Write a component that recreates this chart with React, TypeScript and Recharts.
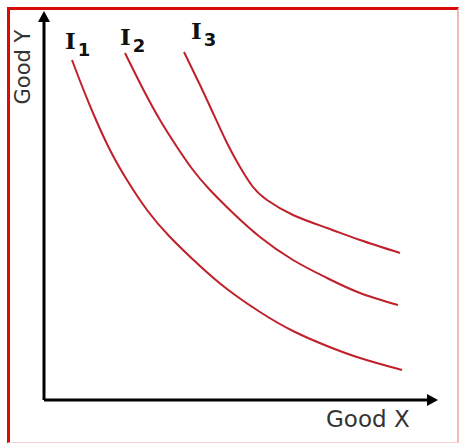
import React from "react"
import { LineChart, Line, XAxis, YAxis, Customized } from "recharts"

// indifference curves (origin = where the axes meet)
const curveI1 = [
  { x: 28, y: 340 }, { x: 36, y: 319 }, { x: 49, y: 287 }, { x: 66, y: 250 },
  { x: 83, y: 220 }, { x: 103, y: 190 }, { x: 126, y: 163 }, { x: 156, y: 134 },
  { x: 183, y: 111 }, { x: 216, y: 88 }, { x: 249, y: 69 }, { x: 283, y: 54 },
  { x: 316, y: 42 }, { x: 358, y: 30 },
]
const curveI2 = [
  { x: 81, y: 347 }, { x: 99, y: 311 }, { x: 116, y: 280 }, { x: 133, y: 253 },
  { x: 149, y: 230 }, { x: 166, y: 210 }, { x: 189, y: 187 }, { x: 216, y: 163 },
  { x: 249, y: 140 }, { x: 283, y: 122 }, { x: 316, y: 107 }, { x: 354, y: 95 },
]
const curveI3 = [
  { x: 140, y: 348 }, { x: 156, y: 315 }, { x: 169, y: 287 }, { x: 183, y: 257 },
  { x: 196, y: 233 }, { x: 209, y: 213 }, { x: 223, y: 200 }, { x: 249, y: 185 },
  { x: 283, y: 172 }, { x: 316, y: 160 }, { x: 356, y: 147 },
]
const curveLabels = ["1", "2", "3"]
const xLabel = "Good X"
const yLabel = "Good Y"

const W = 459
const H = 443
const RED = "#c0202a"

function Arrows() {
  return (
    <defs>
      <marker id="arrowHead" markerUnits="userSpaceOnUse" markerWidth="12" markerHeight="14"
        refX="1" refY="7" orient="auto-start-reverse" viewBox="0 0 12 14">
        <path d="M0,1 L11,7 L0,13 Z" fill="#000" />
      </marker>
    </defs>
  )
}

function CurveLabel({ x, y, n }: { x: number; y: number; n: string }) {
  return (
    <text x={x} y={y} fill="#111" fontWeight="bold">
      <tspan fontFamily="DejaVu Serif" fontSize={23}>I</tspan>
      <tspan fontFamily="DejaVu Sans" fontSize={18} dy={7} dx={2}>{n}</tspan>
    </text>
  )
}

export default function App() {
  return (
    <div style={{ position: "absolute", left: 0, top: 0, width: W, height: H, background: "#fff" }}>
      <div
        style={{
          position: "absolute", left: 7, top: 7, right: 0, bottom: 0,
          borderTop: "3px solid #d80a0a", borderLeft: "3px solid #d80a0a",
          borderRight: "2px solid #f3b8b8", borderBottom: "1px solid #f8d0d0",
          boxSizing: "border-box",
        }}
      />
      <div style={{ position: "absolute", left: 0, top: 0 }}>
        <LineChart width={W} height={H} margin={{ top: 21, right: 31, bottom: 42, left: 43 }}>
          <Customized component={Arrows} />
          <XAxis type="number" dataKey="x" domain={[0, 384]} height={1} tick={false} tickLine={false}
            stroke="#000" axisLine={{ stroke: "#000", strokeWidth: 3, markerEnd: "url(#arrowHead)" }} />
          <YAxis type="number" dataKey="y" domain={[0, 379]} width={1} tick={false} tickLine={false}
            stroke="#000" axisLine={{ stroke: "#000", strokeWidth: 3, markerStart: "url(#arrowHead)" }} />
          <Line data={curveI1} dataKey="y" type="natural" stroke={RED} strokeWidth={2} dot={false} isAnimationActive={false} />
          <Line data={curveI2} dataKey="y" type="natural" stroke={RED} strokeWidth={2} dot={false} isAnimationActive={false} />
          <Line data={curveI3} dataKey="y" type="natural" stroke={RED} strokeWidth={2} dot={false} isAnimationActive={false} />
          <CurveLabel x={65} y={49} n={curveLabels[0]} />
          <CurveLabel x={120} y={45} n={curveLabels[1]} />
          <CurveLabel x={191} y={39} n={curveLabels[2]} />
          <text x={326} y={427} fontFamily="DejaVu Sans" fontSize={23} fill="#333">{xLabel}</text>
          <text x={30} y={67} fontFamily="DejaVu Sans" fontSize={21} fill="#333" textAnchor="middle"
            transform="rotate(-90 30 67)">{yLabel}</text>
        </LineChart>
      </div>
    </div>
  )
}
